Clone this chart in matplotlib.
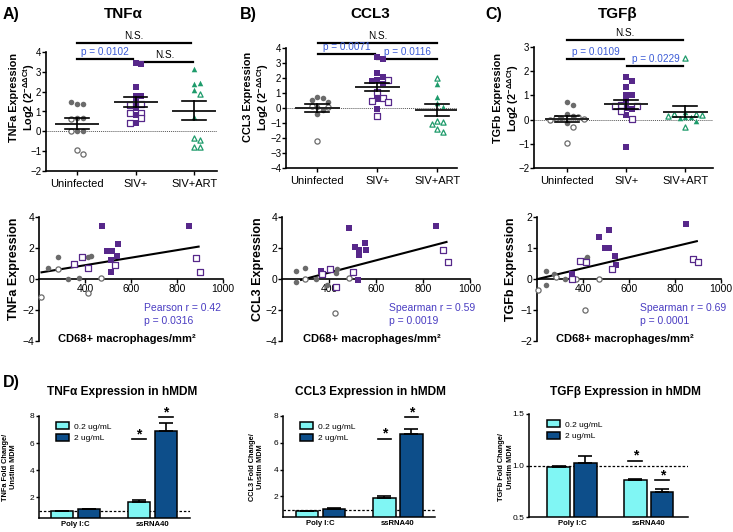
import numpy as np
import matplotlib
matplotlib.use("Agg")
import matplotlib.pyplot as plt

plt.rcParams['font.family'] = ['Liberation Sans', 'DejaVu Sans']
plt.rcParams['mathtext.fontset'] = 'custom'
plt.rcParams['mathtext.rm'] = 'Liberation Sans'
plt.rcParams['mathtext.bf'] = 'Liberation Sans:bold'

W, H = 733, 532

GREY = '#6b6b6b'
PURPLE = '#57288a'
GREEN = '#1e9b6b'
BLUE_TXT = '#3b5bd6'
CORR_TXT = '#4a3dc2'
CYAN = '#80f6f4'
NAVY = '#0d4e8a'

groups = ['Uninfected', 'SIV+', 'SIV+ART']

# ---- top row: log2 expression per group (filled / open symbols)
tnf_unin_f = [1.36, 1.38, 1.49, 0.69, 0.66, 0.03, 0.02]
tnf_unin_o = [0.64, 0.04, -0.94, -1.16]
tnf_siv_f = [3.47, 3.37, 2.22, 1.80, 1.80, 1.49, 1.19, 0.82, 0.40]
tnf_siv_o = [1.39, 1.33, 0.94, 0.94, 0.66, 0.43]
tnf_art_f = [3.14, 2.37, 2.45, 2.08, 0.74]
tnf_art_o = [1.86, -0.32, -0.44, -0.78, -0.78]

ccl_unin_f = [0.76, 0.69, 0.53, 0.42, 0.09, -0.13, -0.40]
ccl_unin_o = [0.13, 0.04, -2.2]
ccl_siv_f = [3.42, 3.30, 2.35, 2.10, 1.90, 1.80, 1.60, 0.58, -0.06]
ccl_siv_o = [1.85, 1.10, 0.70, 0.50, 0.38, -0.50]
ccl_art_f = [1.60, 0.76, 0.36, 0.09]
ccl_art_o = [2.02, -0.87, -0.91, -1.07, -1.40, -1.62]

tgf_unin_f = [0.72, 0.62, 0.24, 0.15, 0.05, -0.15]
tgf_unin_o = [0.10, 0.05, 0.02, 0.0, -0.32, -0.97]
tgf_siv_f = [1.78, 1.60, 1.33, 1.02, 1.00, 0.75, 0.48, 0.45, 0.20, -1.15]
tgf_siv_o = [0.60, 0.58, 0.55, 0.34, 0.02]
tgf_art_f = [0.32, 0.10, 0.10, 0.05, -0.05]
tgf_art_o = [2.55, 0.25, 0.25, 0.20, 0.15, -0.30]

# ---- middle row: expression vs CD68+ macrophage density
tnf_gf_x = [240, 281, 327, 374, 415, 425]
tnf_gf_y = [0.69, 1.40, 0.00, 0.08, 1.40, 1.50]
tnf_go_x = [207, 281, 412, 470]
tnf_go_y = [-1.14, 0.62, -0.88, 0.04]
tnf_pf_x = [473, 497, 516, 545, 541, 515, 512, 850]
tnf_pf_y = [3.42, 1.80, 1.83, 2.26, 1.50, 1.20, 0.43, 3.44]
tnf_po_x = [352, 385, 415, 531, 881, 901]
tnf_po_y = [0.97, 1.44, 0.69, 0.90, 1.35, 0.47]
tnf_fit_x = [211, 894]
tnf_fit_y = [0.43, 2.09]

ccl_gf_x = [260, 260, 299, 345, 390, 433, 430]
ccl_gf_y = [0.54, -0.17, 0.69, 0.00, -0.39, 0.65, 0.41]
ccl_go_x = [299, 427, 484]
ccl_go_y = [-0.02, -2.20, 0.04]
ccl_pf_x = [486, 511, 528, 528, 553, 556, 857, 525, 367]
ccl_pf_y = [3.31, 2.09, 1.87, 1.55, 2.34, 1.85, 3.42, -0.06, 0.54]
ccl_po_x = [370, 404, 430, 502, 883, 906]
ccl_po_y = [0.32, 0.65, -0.54, 0.47, 1.85, 1.10]
ccl_fit_x = [281, 900]
ccl_fit_y = [-0.06, 2.39]

tgf_gf_x = [237, 237, 276, 323, 419, 415]
tgf_gf_y = [0.26, -0.18, 0.16, 0.00, 0.71, 0.63]
tgf_go_x = [206, 284, 371, 409, 468]
tgf_go_y = [-0.34, 0.05, 0.00, -0.99, 0.00]
tgf_pf_x = [350, 470, 514, 496, 515, 539, 543, 848]
tgf_pf_y = [0.16, 1.34, 1.59, 1.01, 0.99, 0.74, 0.46, 1.78]
tgf_po_x = [350, 385, 412, 528, 877, 902]
tgf_po_y = [0.00, 0.58, 0.54, 0.32, 0.63, 0.56]
tgf_fit_x = [203, 895]
tgf_fit_y = [0.00, 1.22]

# ---- bottom row: hMDM fold change
stims = ['Poly I:C', 'ssRNA40']
doses = ['0.2 ug/mL', '2 ug/mL']
tnf_low = [1.00, 1.63]
tnf_low_err = [0.0, 0.15]
tnf_high = [1.12, 6.90]
tnf_high_err = [0.0, 0.60]
ccl_low = [0.87, 1.84]
ccl_low_err = [0.0, 0.15]
ccl_high = [1.08, 6.65]
ccl_high_err = [0.05, 0.40]
tgf_low = [0.987, 0.857]
tgf_low_err = [0.013, 0.013]
tgf_high = [1.02, 0.74]
tgf_high_err = [0.075, 0.035]


fig = plt.figure(figsize=(W / 100, H / 100), dpi=100)


def rect(l, t, r, b):
    return [l / W, 1 - b / H, (r - l) / W, (b - t) / H]


def beeswarm(ys, yscale, xscale, d=5.6):
    # greedy layout: spread points sideways when they would overlap
    placed = []
    offs = []
    cands = [0]
    for k in range(1, 8):
        cands += [k * d, -k * d]
    for y in ys:
        py = y * yscale
        for c in cands:
            ok = True
            for (qx, qy) in placed:
                if (c - qx) ** 2 + (py - qy) ** 2 < (d * 0.95) ** 2:
                    ok = False
                    break
            if ok:
                break
        placed.append((c, py))
        offs.append(c / xscale)
    return offs


def top_panel(box, data, ylim, xlim, ylab, brackets):
    ax = fig.add_axes(rect(*box))
    ax.set_xlim(*xlim)
    ax.set_ylim(*ylim)
    yscale = (box[3] - box[1]) / (ylim[1] - ylim[0])
    xscale = (box[2] - box[0]) / (xlim[1] - xlim[0])
    markers = ['o', 's', '^']
    colors = [GREY, PURPLE, GREEN]
    ax.axhline(0, color='#555555', lw=0.7, ls=(0, (1, 1)), zorder=1)
    for i, (filled, hollow) in enumerate(data):
        ys = list(filled) + list(hollow)
        offs = beeswarm(ys, yscale, xscale)
        nf = len(filled)
        xs = [i + o for o in offs]
        ax.scatter(xs[:nf], ys[:nf], marker=markers[i], s=16, color=colors[i],
                   linewidths=0, zorder=3)
        ax.scatter(xs[nf:], ys[nf:], marker=markers[i], s=14, facecolors='white',
                   edgecolors=colors[i], linewidths=0.9, zorder=3)
        m = np.mean(ys)
        s = np.std(ys, ddof=1) / np.sqrt(len(ys))
        ax.plot([i - 0.36, i + 0.36], [m, m], color='#222222', lw=1.4, zorder=4)
        ax.plot([i, i], [m - s, m + s], color='k', lw=1.2, zorder=4)
        ax.plot([i - 0.2, i + 0.2], [m + s, m + s], color='k', lw=1.2, zorder=4)
        ax.plot([i - 0.2, i + 0.2], [m - s, m - s], color='k', lw=1.2, zorder=4)
    for (x0, x1, y, txt, col) in brackets:
        ax.plot([x0, x1], [y, y], color='k', lw=1.6, clip_on=False)
        ax.annotate(txt, ((x0 + x1) / 2, y), xytext=(0, 1.5), textcoords='offset points',
                    ha='center', va='bottom', fontsize=7.2, color=col, annotation_clip=False)
    ax.set_xticks(range(3))
    ax.set_xticklabels(groups, fontsize=8)
    ax.set_yticks(np.arange(ylim[0], ylim[1] + 1))
    ax.tick_params(axis='y', labelsize=7, length=3, width=1, pad=0.5)
    ax.tick_params(axis='x', length=3, width=1, pad=3)
    for sp in ['top', 'right']:
        ax.spines[sp].set_visible(False)
    for sp in ['left', 'bottom']:
        ax.spines[sp].set_linewidth(1.2)
    fig.text(ylab[0] / W, 1 - ylab[2] / H, ylab[3], rotation=90, ha='center', va='center',
             fontsize=7.8, fontweight='bold')
    fig.text(ylab[1] / W, 1 - ylab[2] / H, r'Log2 (2$^{\mathbf{-ΔΔCt}}$)', rotation=90,
             ha='center', va='center', fontsize=7.8, fontweight='bold')
    return ax


def mid_panel(box, ylim, yticks, pts, fit, ylab_x, name, stat_x, stat):
    ax = fig.add_axes(rect(*box))
    ax.set_xlim(200, 1000)
    ax.set_ylim(*ylim)
    gf, go, pf, po = pts
    ax.scatter(gf[0], gf[1], marker='o', s=16, color=GREY, linewidths=0, zorder=3, clip_on=False)
    ax.scatter(go[0], go[1], marker='o', s=14, facecolors='white', edgecolors=GREY,
               linewidths=0.9, zorder=3, clip_on=False)
    ax.scatter(pf[0], pf[1], marker='s', s=16, color=PURPLE, linewidths=0, zorder=3, clip_on=False)
    ax.scatter(po[0], po[1], marker='s', s=14, facecolors='white', edgecolors=PURPLE,
               linewidths=0.9, zorder=3, clip_on=False)
    ax.plot(fit[0], fit[1], color='k', lw=1.5, zorder=2)
    ax.spines['bottom'].set_position(('data', 0))
    for sp in ['top', 'right']:
        ax.spines[sp].set_visible(False)
    for sp in ['left', 'bottom']:
        ax.spines[sp].set_linewidth(1.2)
    ax.set_xticks([400, 600, 800, 1000])
    ax.set_yticks(yticks)
    ax.tick_params(labelsize=7.5, length=3, width=1, pad=0.5)
    fig.text(ylab_x / W, 1 - 269 / H, name, rotation=90, ha='center', va='center',
             fontsize=9, fontweight='bold')
    cx = (box[0] + box[2]) / 2 - 4
    fig.text(cx / W, 1 - 339 / H, 'CD68+ macrophages/mm²', ha='center', va='center',
             fontsize=8, fontweight='bold')
    fig.text(stat_x / W, 1 - 308 / H, stat[0], ha='left', va='center', fontsize=7.5, color=CORR_TXT)
    fig.text(stat_x / W, 1 - 321 / H, stat[1], ha='left', va='center', fontsize=7.5, color=CORR_TXT)
    return ax


def bar_panel(box, xlim, ylim, yticks, low, low_err, high, high_err, title, tcx, ylab_x, name,
              stars):
    ax = fig.add_axes(rect(*box))
    x = np.arange(len(stims))
    w = 0.29
    ax.bar(x - 0.175, low, w, color=CYAN, edgecolor='k', lw=1.1, zorder=2, label=doses[0])
    ax.bar(x + 0.175, high, w, color=NAVY, edgecolor='k', lw=1.1, zorder=2, label=doses[1])
    ax.errorbar(x - 0.175, low, yerr=[np.zeros(2), low_err], fmt='none', ecolor='k',
                elinewidth=1.2, capsize=5, capthick=1.2, zorder=3)
    ax.errorbar(x + 0.175, high, yerr=[np.zeros(2), high_err], fmt='none', ecolor='k',
                elinewidth=1.2, capsize=5, capthick=1.2, zorder=3)
    ax.axhline(1, color='k', lw=0.9, ls=(0, (2, 1.5)), zorder=1)
    for (sx, sy) in stars:
        ax.plot([sx - 0.09, sx + 0.09], [sy, sy], color='k', lw=1.2)
        ax.annotate('*', (sx, sy), xytext=(0, -1.5), textcoords='offset points', ha='center',
                    va='bottom', fontsize=10, fontweight='bold')
    ax.set_xlim(*xlim)
    ax.set_ylim(*ylim)
    ax.set_xticks(x)
    ax.set_xticklabels(stims, fontsize=5.6, fontweight='bold')
    ax.set_yticks(yticks)
    ax.tick_params(axis='y', labelsize=6, length=2.5, width=1, pad=1)
    ax.tick_params(axis='x', length=0, pad=2)
    for sp in ['top', 'right']:
        ax.spines[sp].set_visible(False)
    for sp in ['left', 'bottom']:
        ax.spines[sp].set_linewidth(1.1)
    ax.legend(loc='upper left', bbox_to_anchor=(0.09, 0.97), frameon=False, fontsize=6,
              handlelength=1.6, handleheight=0.9, handletextpad=0.6, labelspacing=0.35,
              borderaxespad=0)
    fig.text(tcx / W, 1 - 392 / H, title, ha='center', va='center', fontsize=8.6,
             fontweight='bold')
    fig.text(ylab_x[0] / W, 1 - 467 / H, name + ' Fold Change/', rotation=90, ha='center',
             va='center', fontsize=5.3, fontweight='bold')
    fig.text(ylab_x[1] / W, 1 - 467 / H, 'Unstim MDM', rotation=90, ha='center',
             va='center', fontsize=5.3, fontweight='bold')
    return ax


# ---------------- top row
top_panel((46, 52, 217, 171),
          [(tnf_unin_f, tnf_unin_o), (tnf_siv_f, tnf_siv_o), (tnf_art_f, tnf_art_o)],
          (-2, 4), (-0.53, 2.39), (14, 29, 97, 'TNFa Expression'),
          [(0, 1.95, 4.47, 'N.S.', 'k'), (0, 0.96, 3.63, 'p = 0.0102', BLUE_TXT),
           (1.03, 1.98, 3.48, 'N.S.', 'k')])
top_panel((286, 48, 457, 168),
          [(ccl_unin_f, ccl_unin_o), (ccl_siv_f, ccl_siv_o), (ccl_art_f, ccl_art_o)],
          (-4, 4), (-0.52, 2.33), (248, 263, 97, 'CCL3 Expression'),
          [(0.02, 2.0, 4.36, 'N.S.', 'k'), (0.02, 0.97, 3.62, 'p = 0.0071', BLUE_TXT),
           (1.0, 2.0, 3.29, 'p = 0.0116', BLUE_TXT)])
top_panel((534, 47, 713, 168),
          [(tgf_unin_f, tgf_unin_o), (tgf_siv_f, tgf_siv_o), (tgf_art_f, tgf_art_o)],
          (-2, 3), (-0.56, 2.47), (498, 513, 98, 'TGFb Expression'),
          [(0, 1.97, 3.28, 'N.S.', 'k'), (0, 0.97, 2.52, 'p = 0.0109', BLUE_TXT),
           (1.02, 1.97, 2.22, 'p = 0.0229', BLUE_TXT)])

fig.text(3 / W, 1 - 14 / H, 'A)', fontsize=11.5, fontweight='bold', va='center')
fig.text(240 / W, 1 - 14 / H, 'B)', fontsize=11.5, fontweight='bold', va='center')
fig.text(485 / W, 1 - 14 / H, 'C)', fontsize=11.5, fontweight='bold', va='center')
fig.text(123 / W, 1 - 14 / H, 'TNFα', fontsize=11, fontweight='bold', ha='center', va='center')
fig.text(370 / W, 1 - 14 / H, 'CCL3', fontsize=11, fontweight='bold', ha='center', va='center')
fig.text(618 / W, 1 - 14 / H, 'TGFβ', fontsize=11, fontweight='bold', ha='center', va='center')

# ---------------- middle row
mid_panel((39, 217, 223, 341), (-4, 4), [-4, -2, 0, 2, 4],
          ((tnf_gf_x, tnf_gf_y), (tnf_go_x, tnf_go_y), (tnf_pf_x, tnf_pf_y), (tnf_po_x, tnf_po_y)),
          (tnf_fit_x, tnf_fit_y), 14, 'TNFa Expression', 144,
          ('Pearson r = 0.42', 'p = 0.0316'))
mid_panel((282, 217, 470, 341), (-4, 4), [-4, -2, 0, 2, 4],
          ((ccl_gf_x, ccl_gf_y), (ccl_go_x, ccl_go_y), (ccl_pf_x, ccl_pf_y), (ccl_po_x, ccl_po_y)),
          (ccl_fit_x, ccl_fit_y), 258, 'CCL3 Expression', 389,
          ('Spearman r = 0.59', 'p = 0.0019'))
mid_panel((537, 217, 721, 341), (-2, 2), [-2, -1, 0, 1, 2],
          ((tgf_gf_x, tgf_gf_y), (tgf_go_x, tgf_go_y), (tgf_pf_x, tgf_pf_y), (tgf_po_x, tgf_po_y)),
          (tgf_fit_x, tgf_fit_y), 511, 'TGFb Expression', 640,
          ('Spearman r = 0.69', 'p = 0.0001'))

# ---------------- bottom row
fig.text(3 / W, 1 - 383 / H, 'D)', fontsize=11.5, fontweight='bold', va='center')
bar_panel((39, 416, 190, 518), (-0.47, 1.49), (0.45, 8), [2, 4, 6, 8],
          tnf_low, tnf_low_err, tnf_high, tnf_high_err, 'TNFα Expression in hMDM', 122,
          (6, 14), 'TNFa', [(0.825, 6.3), (1.175, 7.9)])
bar_panel((283, 416, 435, 517), (-0.49, 1.48), (0.45, 8), [2, 4, 6, 8],
          ccl_low, ccl_low_err, ccl_high, ccl_high_err, 'CCL3 Expression in hMDM', 370,
          (252, 261), 'CCL3', [(0.825, 6.3), (1.175, 7.9)])
bar_panel((529, 414, 688, 517), (-0.56, 1.51), (0.5, 1.5), [0.5, 1.0, 1.5],
          tgf_low, tgf_low_err, tgf_high, tgf_high_err, 'TGFβ Expression in hMDM', 625,
          (501, 510), 'TGFb', [(0.825, 1.045), (1.175, 0.857)])

fig.savefig('out.png', dpi=100)
